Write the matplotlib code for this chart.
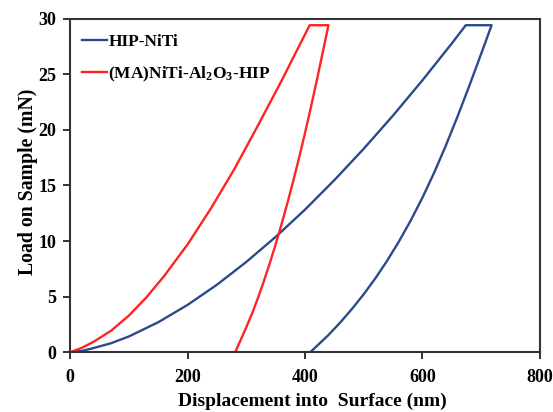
import matplotlib
matplotlib.use("Agg")
import matplotlib.pyplot as plt

plt.rcParams["font.family"] = ["Liberation Serif", "DejaVu Serif"]
plt.rcParams["font.weight"] = "bold"
plt.rcParams["mathtext.fontset"] = "custom"
plt.rcParams["mathtext.rm"] = "Liberation Serif:bold"
plt.rcParams["mathtext.bf"] = "Liberation Serif:bold"
plt.rcParams["mathtext.it"] = "Liberation Serif:bold:italic"

# HIP-NiTi: loading, hold, unloading (nm, mN)
hip_load_h = [0, 20, 40, 70, 100, 150, 200, 250, 300, 350, 400, 450, 500, 550, 600, 650, 674]
hip_load_p = [0, 0.12, 0.38, 0.82, 1.42, 2.7, 4.26, 6.07, 8.12, 10.37, 12.82, 15.47, 18.29, 21.28, 24.44, 27.75, 29.4]
hip_unload_h = [718, 700, 680, 660, 640, 620, 600, 580, 560, 540, 520, 500, 480, 460, 440, 420, 409]
hip_unload_p = [29.4, 26.8, 23.95, 21.2, 18.58, 16.13, 13.88, 11.83, 9.95, 8.23, 6.65, 5.21, 3.89, 2.67, 1.55, 0.55, 0]

# (MA)NiTi-Al2O3-HIP
ma_load_h = [0, 20, 40, 70, 100, 130, 160, 200, 240, 280, 320, 360, 408]
ma_load_p = [0, 0.4, 0.95, 1.95, 3.3, 4.95, 6.85, 9.7, 12.95, 16.5, 20.4, 24.4, 29.4]
ma_unload_h = [440, 430, 420, 410, 400, 390, 380, 370, 360, 350, 340, 330, 320, 310, 300, 290, 281]
ma_unload_p = [29.4, 26.9, 24.4, 22.0, 19.7, 17.5, 15.4, 13.4, 11.5, 9.7, 8.0, 6.4, 4.9, 3.5, 2.25, 1.05, 0]

BLUE = "#2B4A8B"
RED = "#FF2424"

fig = plt.figure(figsize=(5.53, 4.12), dpi=100)
ax = fig.add_axes([0.127, 0.145, 0.849, 0.81])

ax.plot(hip_load_h + hip_unload_h, hip_load_p + hip_unload_p, color=BLUE, lw=1.7,
        label="HIP-NiTi")
ax.plot(ma_load_h + ma_unload_h, ma_load_p + ma_unload_p, color=RED, lw=1.7,
        label=r"(MA)NiTi-Al$_{\mathbf{2}}$O$_{\mathbf{3}}$-HIP")

ax.set_xlim(0, 800)
ax.set_ylim(0, 30)
ax.set_xticks([0, 200, 400, 600, 800])
ax.set_yticks([0, 5, 10, 15, 20, 25, 30])
ax.tick_params(direction="out", length=5, width=1.3, labelsize=13, colors="#222222",
               labelcolor="black")
ax.tick_params(axis="x", pad=7)
ax.tick_params(axis="y", pad=5)
for s in ax.spines.values():
    s.set_linewidth(1.5)
    s.set_color("#333333")

ax.set_xlabel("Displacement into  Surface (nm)", fontsize=14, fontweight="bold", va="bottom")
ax.set_ylabel("Load on Sample (mN)", fontsize=14.2, fontweight="bold")
ax.xaxis.set_label_coords(0.516, -0.173)
ax.yaxis.set_label_coords(-0.069, 0.51)

ax.legend(loc="upper left", frameon=False, fontsize=12.5, handlelength=1.4,
          handletextpad=0.1, labelspacing=0.85, borderaxespad=0.3,
          bbox_to_anchor=(0.0, 0.99))

fig.savefig("out.png", dpi=100)
